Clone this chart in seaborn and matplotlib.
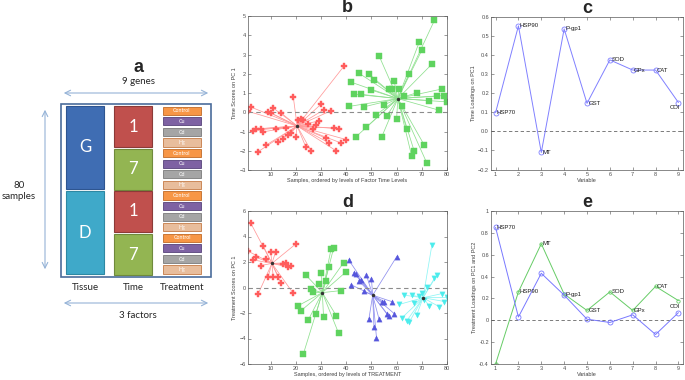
import numpy as np
import pandas as pd
import seaborn as sns
import matplotlib.pyplot as plt
from matplotlib.patches import Rectangle

# loadings (panels c, e)
genes = ["HSP70", "HSP90", "MT", "P-gp1", "GST", "SOD", "GPx", "CAT", "COI"]
time_load_pc1 = [0.097, 0.551, -0.111, 0.535, 0.146, 0.373, 0.32, 0.32, 0.15]
treat_load_pc1 = [0.85, 0.03, 0.43, 0.23, 0.01, -0.02, 0.05, -0.13, 0.07]
treat_load_pc2 = [-0.40, 0.26, 0.70, 0.24, 0.09, 0.26, 0.09, 0.31, 0.18]

# scores (panels b, d), one value per sample 1..80
time_scores = [
    0.05, 0.28, -0.95, -0.88, -2.05, -0.85, -1.02, -1.72, 0.02, -0.03,
    0.22, -0.87, -1.55, -0.02, -1.38, -0.82, -1.18, -1.08, 0.78, -1.28,
    -0.38, -0.35, -0.42, -1.82, -0.62, -2.0, -0.85, -0.65, -0.45, 0.42,
    0.12, -1.35, -1.58, 0.08, -0.82, -2.0, -0.85, -1.6, 2.38, -1.42,
    0.3, 1.56, 0.94, -1.26, 2.03, 0.93, 0.28, -0.77, 1.98, 1.15,
    1.7, -0.12, 2.94, -1.31, 0.38, -0.21, 1.22, 1.22, 1.63, -0.33,
    1.22, 0.31, 0.86, -0.87, 2.0, -2.29, -2.03, 1.01, 3.65, 3.22,
    -1.71, -2.64, 0.61, 2.5, 4.77, 0.84, 0.1, 1.21, 0.87, 0.54,
]
treat_scores = [
    2.85, 5.08, 2.17, 2.38, -0.52, 1.72, 3.29, 2.25, 0.86, 2.82,
    0.86, 2.82, 0.86, 0.37, 1.85, 1.93, 1.6, 1.67, -0.47, 3.42,
    -1.42, -1.83, -5.2, 0.97, -2.52, -0.15, -0.36, -2.05, 0.29, 1.17,
    -2.32, 0.5, 1.57, 3.05, 3.1, -2.2, -3.6, -0.24, 1.96, 1.24,
    2.15, 0.21, 1.15, 1.05, 0.52, 0.62, -0.3, 0.99, -2.46, 0.68,
    -3.09, -3.93, -2.46, -1.1, -1.1, -2.04, -2.25, -1.1, -2.04, 2.41,
    -1.33, -2.4, -0.6, -2.62, -2.72, -0.6, -1.25, -2.15, -0.68, -0.45,
    -1.0, 0.05, -1.45, 3.33, 0.72, 0.98, -1.52, -0.48, -1.1, -0.78,
]
time_levels = ["1"] * 40 + ["7"] * 40
treatments = ["Control", "Cu", "Cd", "Hg"]
treat_levels = [t for t in treatments for _ in range(20)]

sns.set_style("ticks")
plt.rcParams["font.family"] = ["Liberation Sans", "DejaVu Sans"]
plt.rcParams["xtick.direction"] = "in"
plt.rcParams["ytick.direction"] = "in"
plt.rcParams["xtick.top"] = True
plt.rcParams["ytick.right"] = True
plt.rcParams["axes.linewidth"] = 0.5
plt.rcParams["xtick.major.width"] = 0.4
plt.rcParams["ytick.major.width"] = 0.4
plt.rcParams["xtick.major.size"] = 2
plt.rcParams["ytick.major.size"] = 2
plt.rcParams["xtick.major.pad"] = 1.5
plt.rcParams["ytick.major.pad"] = 1.5

fig = plt.figure(figsize=(6.85, 3.8), dpi=100)

fs_tick = 4
fs_lab = 4


def style_axes(ax, title, xlabel, ylabel):
    ax.set_title(title, fontsize=13, fontweight="bold", pad=1.5)
    ax.set_xlabel(xlabel, fontsize=fs_lab, labelpad=1, color="0.25")
    ax.set_ylabel(ylabel, fontsize=fs_lab, labelpad=1.5, color="0.25")
    ax.tick_params(labelsize=fs_tick, colors="0.3")
    for s in ax.spines.values():
        s.set_color("0.35")


def score_panel(ax, df, styles, ylim, yticks, title, xlabel, ylabel):
    ax.axhline(0, color="0.55", ls="--", lw=0.8, dashes=(4, 3), zorder=1.5)
    for level, g in df.groupby("level", sort=False):
        mcol, lcol, mk = styles[level]
        cx, cy = g["sample"].mean(), g["score"].mean()
        for x, y in zip(g["sample"], g["score"]):
            ax.plot([cx, x], [cy, y], color=lcol, lw=0.55, zorder=1)
        sns.scatterplot(data=g, x="sample", y="score", marker=mk, color=mcol,
                        s=14, edgecolor=mcol, linewidth=0.3, ax=ax, zorder=2,
                        legend=False)
        ax.plot(cx, cy, marker="o", ms=1.5, color="0.2", zorder=3)
    ax.set_xlim(1, 80)
    ax.set_xticks(range(10, 81, 10))
    ax.set_ylim(*ylim)
    ax.set_yticks(yticks)
    style_axes(ax, title, xlabel, ylabel)


def loading_panel(ax, series, ylim, yticks, labels, title, ylabel):
    ax.axhline(0, color="0.4", ls="--", lw=0.6, dashes=(4, 3), zorder=0.5)
    x = np.arange(1, len(genes) + 1)
    for vals, col, ms in series:
        sns.lineplot(x=x, y=vals, color=col, lw=0.7, marker="o", ms=ms,
                     markerfacecolor="none", markeredgecolor=col,
                     markeredgewidth=0.6, ax=ax)
    for txt, xx, yy, ha in labels:
        ax.text(xx, yy, txt, fontsize=4.3, ha=ha, va="center", color="0.1")
    ax.set_xlim(0.8, 9.2)
    ax.set_xticks(x)
    ax.set_ylim(*ylim)
    ax.set_yticks(yticks)
    style_axes(ax, title, "Variable", ylabel)


# panel b
df_time = pd.DataFrame({"sample": np.arange(1, 81), "score": time_scores,
                        "level": time_levels})
ax_b = fig.add_axes([248 / 685, 1 - 170 / 380, 199 / 685, 154 / 380])
score_panel(ax_b, df_time,
            {"1": ("#ff5c5c", "#ff9a9a", "P"), "7": ("#5fd35f", "#8fe08f", "s")},
            (-3, 5), range(-3, 6), "b",
            "Samples, ordered by levels of Factor Time Levels",
            "Time Scores on PC 1")

# panel d
df_treat = pd.DataFrame({"sample": np.arange(1, 81), "score": treat_scores,
                         "level": treat_levels})
ax_d = fig.add_axes([248 / 685, 1 - 364 / 380, 199 / 685, 153 / 380])
score_panel(ax_d, df_treat,
            {"Control": ("#ff5c5c", "#ff9a9a", "P"),
             "Cu": ("#5fd35f", "#8fe08f", "s"),
             "Cd": ("#5656dc", "#8f8fee", "^"),
             "Hg": ("#4cecec", "#8ef5f5", "v")},
            (-6, 6), range(-6, 7, 2), "d",
            "Samples, ordered by levels of TREATMENT",
            "Treatment Scores on PC 1")

# panel c
ax_c = fig.add_axes([491 / 685, 1 - 169.5 / 380, 192 / 685, 153 / 380])
c_labels = [(g, i + 1.06, v, "left") for i, (g, v) in
            enumerate(zip(genes[:-1], time_load_pc1[:-1]))]
c_labels.append(("COI", 8.85, 0.125, "center"))
loading_panel(ax_c, [(time_load_pc1, "#8080ff", 3.6)], (-0.2, 0.6),
              np.round(np.arange(-0.2, 0.61, 0.1), 1), c_labels, "c",
              "Time Loadings on PC1")

# panel e
ax_e = fig.add_axes([491 / 685, 1 - 364 / 380, 192 / 685, 153 / 380])
e_labels = [("HSP70", 1.06, treat_load_pc1[0], "left")]
e_labels += [(g, i + 2.06, v, "left") for i, (g, v) in
             enumerate(zip(genes[1:-1], treat_load_pc2[1:-1]))]
e_labels.append(("COI", 8.85, 0.125, "center"))
loading_panel(ax_e, [(treat_load_pc2, "#66cc66", 2.4),
                     (treat_load_pc1, "#7878ff", 3.6)], (-0.4, 1.0),
              np.round(np.arange(-0.4, 1.01, 0.2), 1), e_labels, "e",
              "Treatment Loadings on PC1 and PC2")
ax_e.set_yticklabels(["-0.4", "-0.2", "0", "0.2", "0.4", "0.6", "0.8", "1"])

# panel a: design diagram, drawn in pixel coordinates
ax_a = fig.add_axes([0, 0, 235 / 685, 1])
ax_a.set_xlim(0, 235)
ax_a.set_ylim(380, 0)
ax_a.axis("off")
fa = ["Lato", "DejaVu Sans"]
arrow_col = "#95b3d7"

ax_a.text(138, 68, "a", fontsize=13, fontweight="bold", ha="center",
          va="center", family=["Liberation Sans", "DejaVu Sans"])
ax_a.text(138, 82, "9 genes", fontsize=7, ha="center", va="center", family=fa)
ax_a.annotate("", xy=(61, 93), xytext=(211, 93),
              arrowprops=dict(arrowstyle="<->", color=arrow_col, lw=0.8))
ax_a.annotate("", xy=(45, 107), xytext=(45, 272),
              arrowprops=dict(arrowstyle="<->", color=arrow_col, lw=0.8))
ax_a.text(19, 191, "80\nsamples", fontsize=7, ha="center", va="center",
          family=fa, linespacing=1.3)
ax_a.add_patch(Rectangle((61, 104), 150, 173, fill=False, ec="#4a6c9b", lw=1.2))

tissue = [("G", 106, "#3f6db3", "#2e5590"), ("D", 191, "#3fa9c9", "#2d88a3")]
for lab, y0, fc, ec in tissue:
    ax_a.add_patch(Rectangle((66, y0), 38, 83, fc=fc, ec=ec, lw=0.8))
    ax_a.text(85, y0 + 41.5, lab, color="white", fontsize=12, ha="center",
              va="center", family=fa)

time_boxes = [("1", 106), ("7", 149), ("1", 191), ("7", 234)]
for lab, y0 in time_boxes:
    fc, ec = ("#c0504d", "#8c3a38") if lab == "1" else ("#93b552", "#6f8a3c")
    ax_a.add_patch(Rectangle((114, y0), 38, 40.5, fc=fc, ec=ec, lw=0.8))
    ax_a.text(133, y0 + 20.5, lab, color="white", fontsize=12, ha="center",
              va="center", family=fa)

tcols = {"Control": ("#f79646", "#c06a26"), "Cu": ("#7e62a3", "#57437a"),
         "Cd": ("#a5a5a5", "#7a7a7a"), "Hg": ("#e8bd9c", "#c57a45")}
for i in range(16):
    lab = treatments[i % 4]
    y0 = 106.7 + i * 10.58
    x0 = 162.5 if i < 12 else 163.3
    fc, ec = tcols[lab]
    ax_a.add_patch(Rectangle((x0, y0), 38, 8.2, fc=fc, ec=ec, lw=0.6))
    ax_a.text(x0 + 19, y0 + 4.2, lab, color="white", fontsize=3.8,
              ha="center", va="center", family=fa)

for lab, xx in [("Tissue", 85), ("Time", 133), ("Treatment", 182)]:
    ax_a.text(xx, 287, lab, fontsize=7, ha="center", va="center", family=fa)
ax_a.annotate("", xy=(61, 303), xytext=(211, 303),
              arrowprops=dict(arrowstyle="<->", color=arrow_col, lw=0.8))
ax_a.text(138, 316, "3 factors", fontsize=7, ha="center", va="center",
          family=fa)

plt.savefig("out.png", dpi=100)
